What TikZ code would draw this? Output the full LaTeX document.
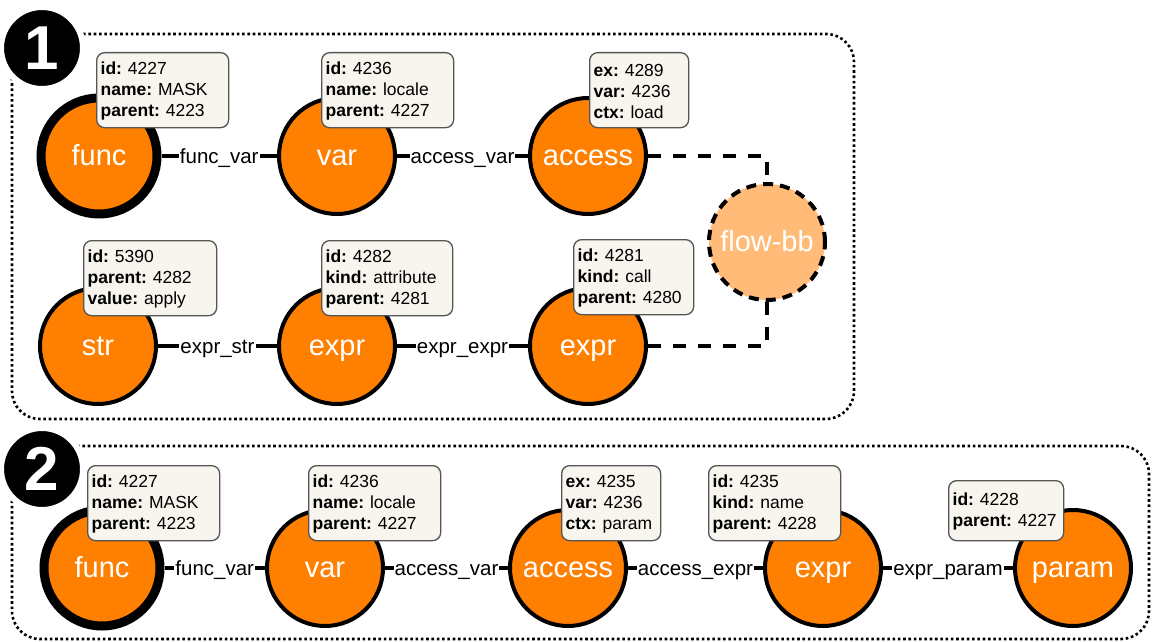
\documentclass[tikz,border=0pt]{standalone}
\usepackage{fontspec}
\setmainfont{Liberation Sans}
\usetikzlibrary{arrows}

\definecolor{astorange}{HTML}{FF8000}
\definecolor{flowfill}{HTML}{FFBB77}
\definecolor{boxfill}{HTML}{F7F5EE}
\definecolor{boxline}{HTML}{555555}

\newcommand{\kv}[2]{\textbf{#1:}\ #2}

\begin{document}
\frenchspacing
\begin{tikzpicture}[x=1pt,y=-1pt,
    astnode/.style={circle,draw=black,line width=4pt,fill=astorange,
                    minimum size=116pt,inner sep=0pt,text=white,
                    text height=19pt,text depth=0pt,
                    font=\fontsize{29}{29}\selectfont},
    rootnode/.style={astnode,line width=9pt},
    flownode/.style={astnode,fill=flowfill,dash pattern=on 10pt off 7pt},
    info/.style={draw=boxline,fill=boxfill,line width=1.3pt,rounded corners=8pt,
                 anchor=north west,align=left,inner xsep=4pt,inner ysep=0pt,
                 minimum height=75pt,font=\fontsize{17.5}{21}\selectfont,
                 execute at begin node=\rule{0pt}{15pt}},
    lbl/.style={fill=white,inner sep=1pt,text height=15pt,text depth=0pt,
                font=\fontsize{20.5}{20.5}\selectfont},
    link/.style={line width=4pt},
    flowlink/.style={line width=4pt,dash pattern=on 13pt off 12pt},
    panel/.style={line width=2.6pt,dash pattern=on 2.6pt off 2.7pt,rounded corners=28pt},
    badge/.style={circle,fill=black,draw=white,line width=6pt,minimum size=82pt,
                  inner sep=0pt,text=white,font=\fontsize{62}{62}\selectfont\bfseries}]

  \useasboundingbox (0,0) rectangle (1152,642);

  % the two dotted frames and their numbers
  \draw[panel] (12,34) rectangle (854,419);
  \draw[panel] (12,446) rectangle (1149,639);
  \node[badge] (one) at (42,48)  {1};
  \node[badge] (two) at (42,469) {2};

  % first graph
  \node[rootnode] (func1)   at (99,156)  {func};
  \node[astnode]  (var1)    at (337,156) {var};
  \node[astnode]  (access1) at (588,156) {access};
  \node[astnode]  (str1)    at (98,346)  {str};
  \node[astnode]  (expr1)   at (337,346) {expr};
  \node[astnode]  (expr2)   at (588,346) {expr};
  \node[flownode] (flowbb)  at (767,242) {flow-bb};

  \path (func1) edge [link] node [lbl] {func\_var} (var1)
        (var1)  edge [link] node [lbl] {access\_var} (access1)
        (str1)  edge [link] node [lbl] {expr\_str} (expr1)
        (expr1) edge [link] node [lbl] {expr\_expr} (expr2);
  \draw[flowlink] (access1.east) -| (flowbb.north);
  \draw[flowlink] (expr2.east) -| (flowbb.south);

  \node[info,text width=124pt] (func1info)   at (96,52)  {\kv{id}{4227}\\\kv{name}{MASK}\\\kv{parent}{4223}};
  \node[info,text width=124pt] (var1info)    at (321,52) {\kv{id}{4236}\\\kv{name}{locale}\\\kv{parent}{4227}};
  \node[info,text width=91pt]  (access1info) at (589,52) {\kv{ex}{4289}\\\kv{var}{4236}\\\kv{ctx}{load}};
  \node[info,text width=125pt] (str1info)    at (83,240) {\kv{id}{5390}\\\kv{parent}{4282}\\\kv{value}{apply}};
  \node[info,text width=123pt] (expr1info)   at (321,240) {\kv{id}{4282}\\\kv{kind}{attribute}\\\kv{parent}{4281}};
  \node[info,text width=112pt] (expr2info)   at (573,239) {\kv{id}{4281}\\\kv{kind}{call}\\\kv{parent}{4280}};

  % second graph
  \node[rootnode] (func2)   at (102,568)  {func};
  \node[astnode]  (var2)    at (325,568)  {var};
  \node[astnode]  (access2) at (568,568)  {access};
  \node[astnode]  (expr3)   at (823,568)  {expr};
  \node[astnode]  (param2)  at (1073,568) {param};

  \path (func2)   edge [link] node [lbl] {func\_var} (var2)
        (var2)    edge [link] node [lbl] {access\_var} (access2)
        (access2) edge [link] node [lbl] {access\_expr} (expr3)
        (expr3)   edge [link] node [lbl] {expr\_param} (param2);

  \node[info,text width=124pt] (func2info)   at (87,465)  {\kv{id}{4227}\\\kv{name}{MASK}\\\kv{parent}{4223}};
  \node[info,text width=124pt] (var2info)    at (308,465) {\kv{id}{4236}\\\kv{name}{locale}\\\kv{parent}{4227}};
  \node[info,text width=91pt]  (access2info) at (561,465) {\kv{ex}{4235}\\\kv{var}{4236}\\\kv{ctx}{param}};
  \node[info,text width=124pt] (expr3info)   at (708,465) {\kv{id}{4235}\\\kv{kind}{name}\\\kv{parent}{4228}};
  \node[info,text width=107pt,minimum height=60pt] (param2info) at (948,480) {\kv{id}{4228}\\\kv{parent}{4227}};

\end{tikzpicture}
\end{document}
